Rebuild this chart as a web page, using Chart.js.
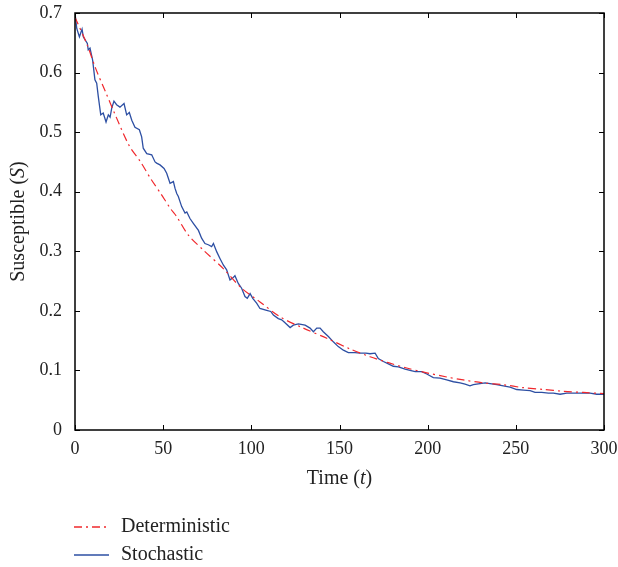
<!DOCTYPE html>
<html lang="en">
<head>
    <meta charset="UTF-8">
    <title>Susceptible</title>
    <style>
        body { margin: 0; background: #fff; }
        #chart { display: block; }
    </style>
</head>
<body>
    <canvas id="chart" width="618" height="567"></canvas>
    <script src="https://cdn.jsdelivr.net/npm/chart.js@4.4.1/dist/chart.umd.min.js"></script>
    <script>
        // deterministic curve
        const detT = [0, 7, 11.7, 17.4, 22.1, 30.6, 37.2, 42.9, 48.6, 54.3, 57.7, 64.3, 72.8, 84.1, 94.5,
            104.9, 116.3, 129.5, 142.8, 156, 167.3, 177.7, 188.1, 199.5, 210.8, 220.2, 231.6, 242.9,
            254.3, 265.6, 277, 288.3, 300]
        const detS = [0.693, 0.646, 0.607, 0.567, 0.534, 0.478, 0.450, 0.422, 0.397, 0.371, 0.358, 0.327,
            0.302, 0.271, 0.238, 0.215, 0.190, 0.171, 0.154, 0.136, 0.123, 0.113, 0.104, 0.096, 0.089,
            0.084, 0.079, 0.076, 0.071, 0.068, 0.065, 0.063, 0.061]

        // stochastic run
        const stoT = [0, 1, 2.5, 4, 4.7, 7, 7.5, 8.5, 10, 11.3, 12.3, 13.2, 14.6, 16, 17.6, 18.9, 19.9,
            20.8, 22.1, 23.6, 25.5, 27.8, 29.3, 30.8, 32.2, 34, 36.5, 37.8, 38.7, 40.7, 43.5, 45.4, 46.3,
            48.2, 50.5, 52, 52.9, 53.9, 55.8, 56.7, 57.7, 58.6, 59.6, 60.5, 62.4, 63.4, 65.2, 67.1, 70,
            71.8, 73.7, 75.6, 77.5, 78.5, 80.4, 82.2, 84.1, 86, 87.9, 89.4, 90.7, 92.6, 94.5, 96.4, 97.7,
            99.3, 100.8, 103, 104.9, 108.7, 111, 112.5, 115.3, 117.2, 119.1, 122, 123.8, 126.7, 130.5,
            133.3, 135.2, 137.1, 139, 140.8, 143.7, 146.5, 149.3, 152.2, 155, 158.8, 161.7, 165, 167.3,
            170.2, 172, 174.9, 177.7, 180.5, 183.4, 187.2, 190, 192.9, 196.6, 199.5, 203.2, 207, 210.8,
            214.6, 218.4, 221.2, 224, 225.9, 229.7, 232.6, 235.4, 239.2, 242.9, 246.7, 250.5, 254.3,
            258.1, 260.9, 264.7, 268.5, 271.3, 275.1, 278.9, 283.6, 288.3, 292.1, 295.9, 300]
        const stoS = [0.700, 0.674, 0.660, 0.673, 0.660, 0.649, 0.638, 0.641, 0.621, 0.588, 0.582, 0.560,
            0.529, 0.532, 0.517, 0.529, 0.525, 0.540, 0.552, 0.546, 0.542, 0.548, 0.529, 0.533, 0.520,
            0.508, 0.504, 0.492, 0.473, 0.464, 0.462, 0.450, 0.448, 0.445, 0.439, 0.431, 0.423, 0.414,
            0.417, 0.406, 0.397, 0.392, 0.383, 0.375, 0.364, 0.366, 0.355, 0.347, 0.335, 0.322, 0.313,
            0.311, 0.308, 0.313, 0.299, 0.288, 0.277, 0.269, 0.252, 0.255, 0.259, 0.246, 0.238, 0.224,
            0.221, 0.229, 0.221, 0.213, 0.204, 0.201, 0.199, 0.193, 0.187, 0.185, 0.180, 0.172, 0.176,
            0.178, 0.176, 0.171, 0.165, 0.171, 0.171, 0.165, 0.157, 0.148, 0.140, 0.134, 0.130, 0.130,
            0.129, 0.129, 0.128, 0.129, 0.120, 0.115, 0.111, 0.107, 0.106, 0.102, 0.100, 0.098, 0.098,
            0.094, 0.088, 0.087, 0.084, 0.081, 0.079, 0.077, 0.074, 0.076, 0.078, 0.079, 0.078, 0.076,
            0.074, 0.072, 0.068, 0.067, 0.066, 0.063, 0.063, 0.062, 0.062, 0.060, 0.062, 0.062, 0.062,
            0.062, 0.060, 0.060]

        const xTicks = [0, 50, 100, 150, 200, 250, 300]
        const yTicks = [0, 0.1, 0.2, 0.3, 0.4, 0.5, 0.6, 0.7]
        const seriesNames = ['Deterministic', 'Stochastic']

        const RED = '#f0282d'
        const BLUE = '#2d4fa3'
        const DASH = [8, 4, 2, 4]
        const SERIF = '"Liberation Serif", "Times New Roman", serif'

        const toPoints = (xs, ys) => xs.map((x, i) => ({ x: x, y: ys[i] }))

        // box, inward ticks, axis titles and legend
        const extras = {
            id: 'extras',
            afterDraw(chart) {
                const ctx = chart.ctx
                const a = chart.chartArea
                const xs = chart.scales.x
                const ys = chart.scales.y
                ctx.save()
                ctx.strokeStyle = '#000'
                ctx.lineWidth = 1.5
                ctx.strokeRect(a.left, a.top, a.right - a.left, a.bottom - a.top)

                ctx.lineWidth = 1
                ctx.beginPath()
                xTicks.forEach(v => {
                    const px = Math.round(xs.getPixelForValue(v)) + 0.5
                    ctx.moveTo(px, a.bottom); ctx.lineTo(px, a.bottom - 5)
                    ctx.moveTo(px, a.top); ctx.lineTo(px, a.top + 5)
                })
                yTicks.forEach(v => {
                    const py = Math.round(ys.getPixelForValue(v)) + 0.5
                    ctx.moveTo(a.left, py); ctx.lineTo(a.left + 5, py)
                    ctx.moveTo(a.right, py); ctx.lineTo(a.right - 5, py)
                })
                ctx.stroke()

                // axis titles with italic symbols
                ctx.fillStyle = '#222'
                ctx.textBaseline = 'middle'
                const norm = '20px ' + SERIF
                const ital = 'italic 20px ' + SERIF
                const drawMixed = (parts, cx, cy) => {
                    let w = 0
                    parts.forEach(p => { ctx.font = p[1] ? ital : norm; w += ctx.measureText(p[0]).width })
                    let x = cx - w / 2
                    ctx.textAlign = 'left'
                    parts.forEach(p => {
                        ctx.font = p[1] ? ital : norm
                        ctx.fillText(p[0], x, cy)
                        x += ctx.measureText(p[0]).width
                    })
                }
                drawMixed([['Time (', false], ['t', true], [')', false]], (a.left + a.right) / 2, 479)

                ctx.save()
                ctx.translate(19, (a.top + a.bottom) / 2)
                ctx.rotate(-Math.PI / 2)
                drawMixed([['Susceptible (', false], ['S', true], [')', false]], 0, 0)
                ctx.restore()

                // legend
                const rows = [
                    { name: seriesNames[0], color: RED, dash: DASH, y: 527 },
                    { name: seriesNames[1], color: BLUE, dash: [], y: 555 },
                ]
                rows.forEach(r => {
                    ctx.strokeStyle = r.color
                    ctx.lineWidth = 1.5
                    ctx.setLineDash(r.dash)
                    ctx.beginPath()
                    ctx.moveTo(74, r.y); ctx.lineTo(109, r.y)
                    ctx.stroke()
                    ctx.setLineDash([])
                    ctx.font = '20px ' + SERIF
                    ctx.fillStyle = '#222'
                    ctx.textAlign = 'left'
                    ctx.fillText(r.name, 121, r.y)
                })
                ctx.restore()
            }
        }

        new Chart(document.querySelector('#chart'), {
            type: 'line',
            data: {
                datasets: [
                    {
                        label: seriesNames[0],
                        data: toPoints(detT, detS),
                        borderColor: RED,
                        borderWidth: 1.2,
                        borderDash: DASH,
                        pointRadius: 0,
                        tension: 0.3,
                    },
                    {
                        label: seriesNames[1],
                        data: toPoints(stoT, stoS),
                        borderColor: BLUE,
                        borderWidth: 1.3,
                        pointRadius: 0,
                        tension: 0,
                    },
                ],
            },
            options: {
                responsive: false,
                animation: false,
                layout: { padding: { top: 13, right: 14, bottom: 0, left: 0 } },
                plugins: { legend: { display: false }, tooltip: { enabled: false } },
                scales: {
                    x: {
                        type: 'linear',
                        min: 0, max: 300,
                        afterBuildTicks: s => { s.ticks = xTicks.map(v => ({ value: v })) },
                        afterFit: s => { s.height = 137; s.paddingLeft = 0; s.paddingRight = 0 },
                        grid: { display: false, drawTicks: false },
                        border: { display: false },
                        ticks: { color: '#222', padding: 8, font: { family: SERIF, size: 18 } },
                    },
                    y: {
                        min: 0, max: 0.7,
                        afterBuildTicks: s => { s.ticks = yTicks.map(v => ({ value: v })) },
                        afterFit: s => { s.width = 75; s.paddingTop = 0; s.paddingBottom = 0 },
                        grid: { display: false, drawTicks: false },
                        border: { display: false },
                        ticks: {
                            color: '#222', padding: 13, font: { family: SERIF, size: 18 },
                            callback: v => v === 0 ? '0' : v.toFixed(1),
                        },
                    },
                },
            },
            plugins: [extras],
        })
    </script>
</body>
</html>
